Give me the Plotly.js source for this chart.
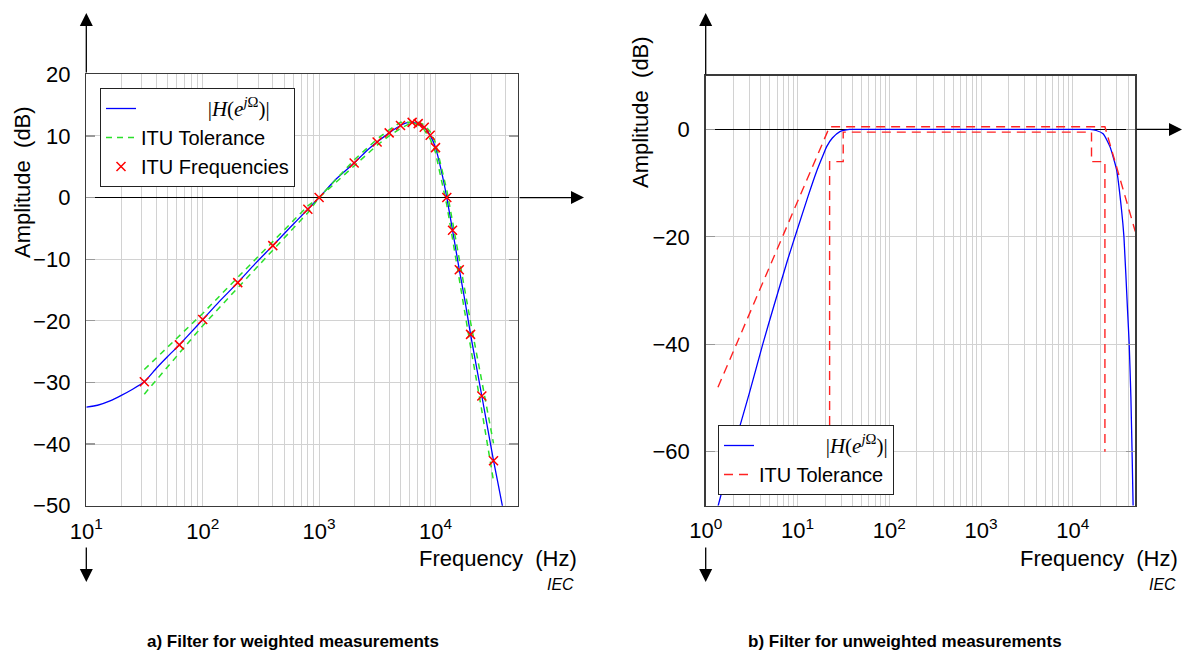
<!DOCTYPE html>
<html>
<head>
<meta charset="utf-8">
<script src="https://cdn.plot.ly/plotly-3.0.1.min.js"></script>
<style>html,body{margin:0;padding:0;background:#fff;}#chart{width:1184px;height:657px;}</style>
</head>
<body>
<div id="chart"></div>
<script>
// ---------- Left panel (weighted, ITU-R 468 style) ----------
const leftCurveFreq = [10, 12.5, 16, 20, 25, 31.5, 40, 50, 63, 80, 100, 140, 200, 280, 400, 560, 800, 1000, 1400, 2000, 2500, 3150, 4000, 5000, 5600, 6300, 7100, 8000, 9000, 10000, 11200, 12500, 14000, 16000, 18000, 20000, 25000, 31500, 37500, 40000];
const leftCurveDb   = [-34.0, -33.7, -33.0, -32.1, -31.1, -29.9, -27.7, -25.8, -23.9, -21.8, -19.8, -16.8, -13.8, -10.8, -7.8, -4.9, -1.9, 0, 3.0, 5.6, 7.4, 9.0, 10.5, 11.7, 12.1, 12.2, 12.0, 11.4, 10.1, 8.1, 4.4, 0, -5.3, -11.7, -17.0, -22.2, -32.2, -42.7, -50.0, -53.5];

const ituFreq  = [31.5, 63, 100, 200, 400, 800, 1000, 2000, 3150, 4000, 5000, 6300, 7100, 8000, 9000, 10000, 12500, 14000, 16000, 20000, 25000, 31500];
const ituDb    = [-29.9, -23.9, -19.8, -13.8, -7.8, -1.9, 0, 5.6, 9.0, 10.5, 11.7, 12.2, 12.0, 11.4, 10.1, 8.1, 0, -5.3, -11.7, -22.2, -32.2, -42.7];
const ituUpper = [-27.9, -22.5, -18.8, -12.95, -7.1, -1.35, 0, 6.1, 9.5, 11.0, 12.2, 12.2, 12.2, 11.8, 10.7, 8.9, 1.2, -3.9, -10.1, -20.2, -29.8, -39.9];
const ituLower = [-31.9, -25.3, -20.8, -14.65, -8.5, -2.45, 0, 5.1, 8.5, 10.0, 11.2, 12.2, 11.8, 11.0, 9.5, 7.3, -1.2, -6.7, -13.3, -24.2, -34.6, -46.0];

// ---------- Right panel (unweighted) ----------
const rightCurveFreq = [1.3, 1.37, 1.7, 2.2, 3.0, 4.18, 5.5, 7.8, 9.8, 13, 16, 18.8, 20.8, 24, 29, 37, 50, 100, 1000, 10000, 15400, 18000, 21400, 25400, 30000, 34000, 36100, 39500, 41200, 43000, 44500, 46000];
const rightCurveDb   = [-72, -70, -64, -57, -49, -40, -33, -24.3, -19.0, -12.5, -8.0, -5.0, -3.2, -1.6, -0.4, 0, 0, 0, 0, 0, 0, -0.2, -0.8, -3.2, -7.5, -15, -20, -33.6, -40, -50, -62, -75];

const tolUpperFreq = [1.36, 22.4, 22400, 48000];
const tolUpperDb   = [-48.0, 0.5, 0.5, -19.0];
const tolLowerFreq = [22.4, 22.4, 31.5, 31.5, 16000, 16000, 22400, 22400];
const tolLowerDb   = [-55, -6, -6, -0.5, -0.5, -6, -6, -60];

const xTickVals = [1, 10, 100, 1000, 10000];
const xTickText = ['10<sup>0</sup>', '10<sup>1</sup>', '10<sup>2</sup>', '10<sup>3</sup>', '10<sup>4</sup>'];
const leftYTicks  = [-50, -40, -30, -20, -10, 0, 10, 20];
const rightYTicks = [-60, -40, -20, 0];

// minor grid values 2..9 per decade
const minorVals = [];
for (let e = 0; e < 5; e++) for (let m = 2; m <= 9; m++) minorVals.push(m * Math.pow(10, e));

const FONT = 'Liberation Sans, Arial, sans-serif';
const FS = 22;
const LFS = 20;
const hLabel = '<span style="font-family:Liberation Serif, serif;font-size:21px">|<i>H</i>(<i>e</i><sup><i>j</i>Ω</sup>)|</span>';
const W = 1184, H = 657;
const px = x => x / W, py = y => 1 - y / H;
const pad = '&nbsp;&nbsp;&nbsp;&nbsp;&nbsp;&nbsp;&nbsp;&nbsp;&nbsp;&nbsp;&nbsp;&nbsp;';

const traces = [
  {x: leftCurveFreq, y: leftCurveDb, xaxis: 'x', yaxis: 'y', mode: 'lines', line: {color: '#0000ff', width: 1.3, shape: 'spline', smoothing: 0.5},
   name: pad + hLabel, legend: 'legend'},
  {x: ituFreq, y: ituUpper, xaxis: 'x', yaxis: 'y', mode: 'lines', line: {color: '#2ae02a', width: 1.5, dash: '6px,5px'},
   name: 'ITU Tolerance', legend: 'legend'},
  {x: ituFreq, y: ituLower, xaxis: 'x', yaxis: 'y', mode: 'lines', line: {color: '#2ae02a', width: 1.5, dash: '6px,5px'},
   name: 'ITU Tolerance', showlegend: false, legend: 'legend'},
  {x: ituFreq, y: ituDb, xaxis: 'x', yaxis: 'y', mode: 'markers', marker: {symbol: 'x-thin-open', size: 9, color: '#ff0000', line: {color: '#ff0000', width: 1.5}},
   name: 'ITU Frequencies', legend: 'legend'},

  {x: rightCurveFreq, y: rightCurveDb, xaxis: 'x2', yaxis: 'y2', mode: 'lines', line: {color: '#0000ff', width: 1.3, shape: 'spline', smoothing: 0.5},
   name: pad + hLabel, legend: 'legend2'},
  {x: tolUpperFreq, y: tolUpperDb, xaxis: 'x2', yaxis: 'y2', mode: 'lines', line: {color: '#ff2222', width: 1.4, dash: '9px,6px'},
   name: 'ITU Tolerance', legend: 'legend2'},
  {x: tolLowerFreq, y: tolLowerDb, xaxis: 'x2', yaxis: 'y2', mode: 'lines', line: {color: '#ff2222', width: 1.4, dash: '9px,6px'},
   name: 'ITU Tolerance', showlegend: false, legend: 'legend2'}
];

function xAxis(domain, range, anchor) {
  return {
    type: 'log', domain: domain, range: range, anchor: anchor,
    tickvals: xTickVals, ticktext: xTickText, ticks: 'outside', ticklen: 5, tickcolor: 'rgba(0,0,0,0)',
    tickfont: {family: FONT, size: FS, color: '#000'},
    showgrid: true, gridcolor: '#d2d2d2', gridwidth: 1,
    minor: {tickvals: minorVals, showgrid: true, gridcolor: '#d2d2d2', gridwidth: 1, ticks: ''},
    showline: true, linecolor: '#3a3a3a', linewidth: 1.5, mirror: true, zeroline: false
  };
}
function yAxis(domain, range, anchor, ticks) {
  return {
    domain: domain, range: range, anchor: anchor, tickvals: ticks,
    ticktext: ticks.map(v => v < 0 ? '\u2212' + Math.abs(v) : String(v)),
    ticks: 'inside', ticklen: 9, tickcolor: '#999', tickwidth: 1.2, ticklabelstandoff: 10,
    tickfont: {family: FONT, size: FS, color: '#000'},
    showgrid: true, gridcolor: '#d2d2d2', gridwidth: 1,
    showline: true, linecolor: '#3a3a3a', linewidth: 1.5, mirror: 'ticks',
    zeroline: true, zerolinecolor: '#000', zerolinewidth: 1.3
  };
}

const arrow = (x, y, ax, ay, xref, yref) => ({
  x: x, y: y, xref: xref || 'paper', yref: yref || 'paper', ax: ax, ay: ay, axref: 'pixel', ayref: 'pixel',
  text: '', showarrow: true, arrowhead: 2, arrowsize: 2, arrowwidth: 1.3, arrowcolor: '#000'
});
const txt = (x, y, t, opts) => Object.assign({x: x, y: y, xref: 'paper', yref: 'paper', text: t, showarrow: false,
  xanchor: 'center', yanchor: 'middle', font: {family: FONT, size: FS, color: '#000'}}, opts || {});

const legendBase = {xanchor: 'left', yanchor: 'top', bgcolor: '#fff', bordercolor: '#222', borderwidth: 1,
  font: {family: FONT, size: LFS, color: '#000'}, tracegroupgap: 0, itemwidth: 30};

const layout = {
  width: W, height: H, margin: {l: 0, r: 0, t: 0, b: 0}, paper_bgcolor: '#fff', plot_bgcolor: '#fff',
  showlegend: true,
  xaxis: xAxis([px(86.3), px(517.7)], [1, 4.706], 'y'),
  yaxis: yAxis([py(505.7), py(74.3)], [-50, 20], 'x', leftYTicks),
  xaxis2: xAxis([px(705.7), px(1135)], [0, 4.678], 'y2'),
  yaxis2: yAxis([py(505.5), py(75.7)], [-70, 10], 'x2', rightYTicks),
  legend: Object.assign({x: px(100), y: py(88)}, legendBase),
  legend2: Object.assign({x: px(718), y: py(425)}, legendBase),
  annotations: [
    // axis arrows
    arrow(px(86.3), py(13), 0, 61),
    arrow(px(86.3), py(582), 0, -36),
    arrow(px(584), 0, -66, 0, 'paper', 'y'),
    arrow(px(705.7), py(13), 0, 63),
    arrow(px(705.7), py(582), 0, -36),
    arrow(px(1182), 0, -47, 0, 'paper', 'y2'),
    // axis titles
    txt(px(22), py(182), 'Amplitude&nbsp;&nbsp;(dB)', {textangle: -90}),
    txt(px(640), py(112), 'Amplitude&nbsp;&nbsp;(dB)', {textangle: -90}),
    txt(px(579), py(558), 'Frequency&nbsp;&nbsp;(Hz)', {xanchor: 'right'}),
    txt(px(1180), py(558), 'Frequency&nbsp;&nbsp;(Hz)', {xanchor: 'right'}),
    txt(px(576), py(584), '<i>IEC</i>', {xanchor: 'right', font: {family: FONT, size: 16, color: '#000'}}),
    txt(px(1178), py(584), '<i>IEC</i>', {xanchor: 'right', font: {family: FONT, size: 16, color: '#000'}}),
    // captions
    txt(px(293), py(641), '<b>a) Filter for weighted measurements</b>', {font: {family: FONT, size: 17, color: '#000'}}),
    txt(px(905), py(641), '<b>b) Filter for unweighted measurements</b>', {font: {family: FONT, size: 17, color: '#000'}})
  ]
};

Plotly.newPlot('chart', traces, layout, {staticPlot: true, displayModeBar: false});
</script>
</body>
</html>
